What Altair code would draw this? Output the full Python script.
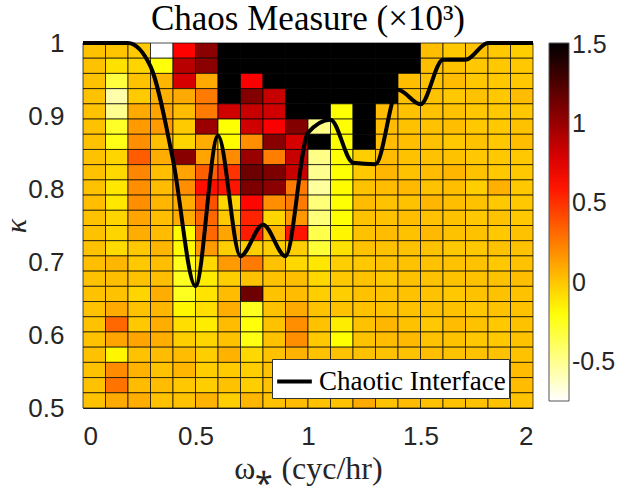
import altair as alt
import pandas as pd

# Grid of the chaos measure (x10^3); each row is one kappa band, top band first,
# each column one omega band of width 0.1 cyc/hr.  Values above 1.5 saturate to black.
OMEGA_STEP = 0.1
KAPPA_MIN, KAPPA_MAX = 0.5, 1.0

chaos_rows = [
    [0.02, 0.01, -0.01, -0.75, 0.66, 1.05, 1.6, 1.6, 1.6, 1.6, 1.6, 1.6, 1.6, 1.6, 1.6, 0.03, 0.0, 0.02, 0.0, -0.02],
    [0.02, -0.08, -0.04, -0.2, 0.9, 1.05, 1.6, 1.6, 1.6, 1.6, 1.6, 1.6, 1.6, 1.6, 1.6, 0.03, 0.02, 0.0, 0.0, 0.0],
    [0.02, -0.32, 0.02, 0.06, 0.8, 0.1, 1.6, 0.68, 1.6, 1.6, 1.6, 1.6, 1.6, 1.6, 0.03, 0.02, 0.04, 0.0, 0.0, 0.0],
    [0.02, -0.56, -0.01, 0.08, 0.1, 0.26, 1.6, 1.08, 0.85, 1.6, 1.6, 1.6, 1.6, 1.6, 0.02, 0.02, 0.0, 0.02, 0.0, 0.04],
    [0.02, -0.5, 0.1, 0.12, 0.04, 0.26, 0.82, 0.85, 0.82, 1.6, 1.6, -0.19, 1.6, 0.04, 0.02, 0.02, 0.02, 0.0, 0.0, 0.0],
    [0.02, -0.27, 0.15, 0.15, -0.01, 1.0, -0.19, 0.82, 0.68, 1.08, -0.48, -0.19, 1.6, 0.04, 0.02, 0.02, 0.03, 0.0, 0.0, 0.02],
    [0.02, -0.23, 0.19, 0.03, -0.04, 0.09, -0.17, 0.19, 1.06, 0.8, 1.6, -0.19, 1.6, 0.04, 0.03, 0.02, 0.0, 0.02, 0.0, 0.03],
    [0.02, -0.04, 0.36, 0.09, 1.06, 0.12, 0.2, 1.0, 0.25, 0.85, -0.48, -0.19, -0.02, 0.04, 0.02, 0.02, 0.02, 0.0, 0.0, 0.0],
    [0.02, -0.05, 0.22, 0.03, 0.12, 0.35, 0.5, 1.15, 1.1, 0.85, -0.5, -0.19, 0.0, 0.06, 0.02, 0.04, 0.06, 0.02, 0.0, 0.0],
    [0.02, -0.1, 0.19, 0.04, 0.19, 0.62, 0.6, 1.1, 1.05, 0.26, -0.53, -0.17, 0.02, 0.04, 0.05, 0.02, 0.03, -0.02, 0.08, 0.0],
    [0.03, -0.1, 0.19, 0.06, 0.09, 0.4, -0.04, 0.65, 0.19, 0.26, -0.45, -0.19, 0.04, 0.02, 0.02, 0.06, 0.03, 0.02, 0.0, 0.0],
    [0.02, -0.04, 0.12, 0.03, 0.09, 0.32, 0.0, 0.55, -0.04, 0.16, -0.45, -0.19, 0.02, 0.02, 0.03, 0.02, 0.02, 0.0, 0.02, 0.0],
    [0.02, -0.04, 0.09, 0.04, -0.17, 0.32, 0.12, 0.58, 0.06, 0.6, -0.35, -0.15, 0.02, 0.04, 0.02, 0.05, 0.02, 0.02, 0.0, 0.02],
    [0.02, -0.06, 0.0, 0.06, -0.17, 0.15, -0.02, -0.02, -0.02, -0.02, -0.3, -0.08, 0.02, 0.02, 0.02, 0.02, 0.0, 0.0, 0.02, 0.02],
    [0.03, 0.06, 0.0, 0.03, -0.24, -0.05, 0.15, 0.26, 0.02, -0.05, -0.1, -0.02, 0.0, 0.02, 0.02, 0.02, 0.02, 0.02, 0.0, 0.02],
    [0.02, 0.03, 0.02, 0.03, -0.25, -0.12, -0.02, 0.02, 0.02, 0.03, -0.05, 0.0, 0.02, 0.0, 0.02, 0.02, 0.02, 0.02, 0.02, 0.03],
    [0.02, 0.02, -0.04, 0.09, -0.25, -0.09, 0.04, 1.15, 0.02, 0.04, -0.02, -0.02, 0.02, 0.02, 0.02, 0.02, 0.0, 0.02, 0.02, 0.02],
    [0.02, 0.1, 0.02, 0.06, -0.15, -0.07, 0.09, -0.25, 0.02, 0.1, 0.02, 0.02, 0.02, 0.02, 0.02, 0.02, 0.02, 0.0, 0.02, 0.02],
    [0.02, 0.32, 0.0, 0.09, -0.07, -0.12, 0.04, -0.2, 0.02, 0.19, 0.02, -0.12, 0.02, 0.06, 0.02, 0.0, 0.04, 0.02, 0.0, 0.02],
    [0.02, 0.12, 0.12, 0.09, -0.02, -0.04, 0.02, -0.22, 0.02, 0.19, 0.0, -0.18, 0.02, 0.04, 0.05, 0.02, 0.02, 0.0, 0.0, 0.02],
    [0.02, -0.15, 0.02, 0.04, 0.04, -0.02, 0.07, -0.05, 0.02, 0.07, 0.02, 0.02, 0.02, 0.02, 0.02, 0.03, 0.02, 0.02, 0.02, 0.02],
    [0.02, 0.2, 0.07, 0.02, 0.06, -0.02, -0.01, -0.02, 0.02, 0.02, 0.02, 0.02, 0.02, 0.02, 0.02, 0.02, 0.02, 0.02, 0.02, 0.04],
    [0.02, 0.28, 0.04, 0.04, 0.0, -0.02, 0.02, -0.02, 0.02, 0.02, 0.02, 0.02, 0.02, 0.02, 0.02, 0.02, 0.02, 0.02, 0.02, 0.04],
    [0.02, 0.1, 0.09, 0.02, 0.02, 0.07, -0.02, 0.06, 0.02, 0.04, 0.02, 0.02, 0.1, 0.02, 0.04, 0.02, 0.02, 0.02, 0.02, 0.02],
]

# Chaotic interface: kappa threshold sampled every 0.1 cyc/hr
interface_omega = [0.0, 0.1, 0.2, 0.3, 0.4, 0.5, 0.6, 0.7, 0.8, 0.9, 1.0,
                   1.1, 1.2, 1.3, 1.4, 1.5, 1.6, 1.7, 1.8, 1.9, 2.0]
interface_kappa = [1.0, 1.0, 1.0, 0.968, 0.84, 0.667, 0.873, 0.708, 0.751, 0.708, 0.877,
                   0.895, 0.836, 0.834, 0.936, 0.916, 0.977, 0.977, 1.0, 1.0, 1.0]

n_rows = len(chaos_rows)
kappa_step = (KAPPA_MAX - KAPPA_MIN) / n_rows
records = []
for r, row in enumerate(chaos_rows):
    k0 = KAPPA_MIN + (n_rows - 1 - r) * kappa_step
    for c, v in enumerate(row):
        records.append({"w0": c * OMEGA_STEP, "w1": (c + 1) * OMEGA_STEP,
                        "k0": k0, "k1": k0 + kappa_step, "chaos": v})
cells = pd.DataFrame(records)

line_df = pd.DataFrame({"omega": interface_omega, "kappa": interface_kappa,
                        "series": "Chaotic Interface"})

# flipped "hot" colormap: white -> yellow -> red -> black over the colour limits
cmin, cmax = -0.745, 1.511
span = cmax - cmin
hot_domain = [cmin, cmin + 0.25 * span, cmin + 0.625 * span, cmax]
hot_range = ["#ffffff", "#ffff00", "#ff0000", "#000000"]

PLOT_W, PLOT_H = 450, 365
x_scale = alt.Scale(domain=[0, 2], nice=False, zero=False)
y_scale = alt.Scale(domain=[0.5, 1], nice=False, zero=False)

tick_font = "Liberation Sans"
serif = "Liberation Serif"
plain_minus = "replace(format(datum.value, '~g'), '\u2212', '-')"

heat = alt.Chart(cells).mark_rect(stroke="black", strokeWidth=1, strokeOpacity=0.7).encode(
    x=alt.X("w0:Q", scale=x_scale,
            axis=alt.Axis(values=[0, 0.5, 1, 1.5, 2], format="~g", ticks=False, grid=False,
                          labelFont=tick_font, labelFontSize=26, labelColor="#262626",
                          labelPadding=15, domainColor="#262626",
                          title="ω⁎ (cyc/hr)", titleFont=serif, titleFontSize=32,
                          titleFontWeight="normal", titleColor="#262626", titlePadding=4)),
    x2="w1:Q",
    y=alt.Y("k0:Q", scale=y_scale,
            axis=alt.Axis(values=[0.5, 0.6, 0.7, 0.8, 0.9, 1], format="~g", ticks=False, grid=False,
                          labelFont=tick_font, labelFontSize=26, labelColor="#262626",
                          labelPadding=19, domainColor="#262626",
                          title="κ", titleFont=serif, titleFontSize=30, titleFontStyle="italic",
                          titleFontWeight="normal", titleColor="#262626",
                          titleAngle=270, titleAlign="center", titleBaseline="middle",
                          titleX=-67, titleY=PLOT_H / 2)),
    y2="k1:Q",
    fill=alt.Fill("chaos:Q",
                  scale=alt.Scale(domain=hot_domain, range=hot_range, clamp=True, interpolate="rgb"),
                  legend=alt.Legend(title=None, orient="none", legendX=466, legendY=0,
                                    direction="vertical", gradientLength=358, gradientThickness=20,
                                    gradientStrokeColor="#555555", gradientStrokeWidth=1,
                                    values=[-0.5, 0, 0.5, 1, 1.5], labelExpr=plain_minus,
                                    labelFont=tick_font, labelFontSize=25, labelColor="#262626",
                                    labelOffset=3)),
)

line = alt.Chart(line_df).mark_line(strokeWidth=4, interpolate="monotone").encode(
    x="omega:Q",
    y="kappa:Q",
    stroke=alt.Stroke("series:N", scale=alt.Scale(range=["black"]),
                      legend=alt.Legend(title=None, orient="none", legendX=189, legendY=316,
                                        fillColor="white", strokeColor="#333333", padding=3,
                                        symbolType="stroke", symbolStrokeWidth=4, symbolSize=1200,
                                        labelFont=serif, labelFontSize=27, labelColor="black",
                                        labelLimit=400, labelOffset=5)),
)

chart = alt.layer(heat, line).properties(
    width=PLOT_W, height=PLOT_H,
    autosize=alt.AutoSizeParams(type="none"),
    padding={"left": 83, "top": 43, "right": 86, "bottom": 81},
    title=alt.TitleParams("Chaos Measure (×10³)", font=serif, fontSize=35, fontWeight="normal",
                          color="black", anchor="middle", offset=-7),
).resolve_scale(
    fill="independent", stroke="independent"
).configure_view(strokeWidth=0)

chart.save("out.html", embed_options={"renderer": "svg", "actions": False})
